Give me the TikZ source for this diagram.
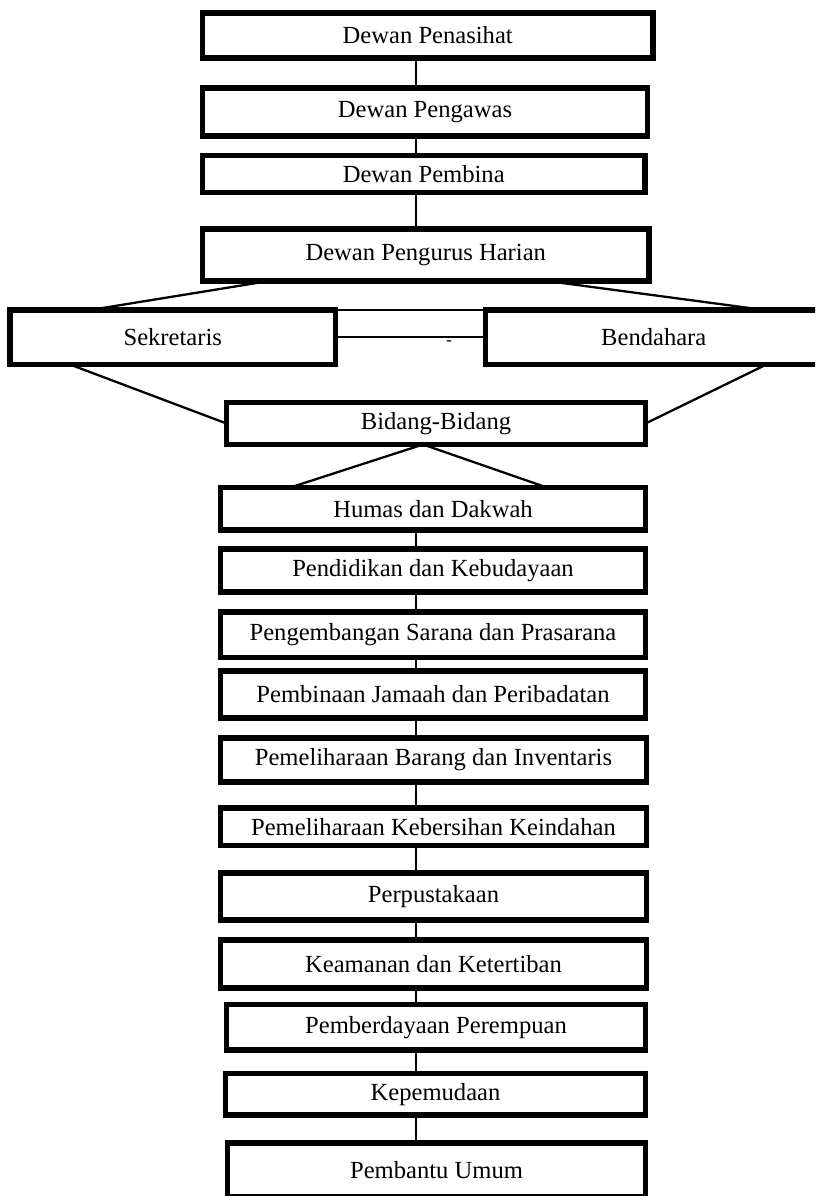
\documentclass[tikz,border=0pt]{standalone}
\usepackage{fontspec}
\setmainfont{Liberation Serif}
\usetikzlibrary{calc}

\begin{document}
\begin{tikzpicture}[
    x=0.02cm, y=-0.02cm,
    box/.style={draw, line width=3pt, inner sep=0pt, outer sep=0pt, align=center,
        font=\fontsize{14}{16}\selectfont},
    link/.style={line width=1.3pt}
]
    \useasboundingbox (0,0) rectangle (815,1196);
    \clip (0,0) rectangle (815,1196);

    % Dewan
    \node[box, minimum width=9.01cm, minimum height=0.9cm]  (penasihat) at (427.75,35.5) {Dewan Penasihat};
    \node[box, minimum width=8.9cm,  minimum height=0.96cm] (pengawas)  at (425,112)    {Dewan Pengawas};
    \node[box, minimum width=8.85cm, minimum height=0.74cm] (pembina)   at (423.75,174) {Dewan Pembina};
    \node[box, minimum width=8.93cm, minimum height=1.04cm] (pengurus)  at (425.75,255) {Dewan Pengurus Harian};

    \node[box, minimum width=6.51cm, minimum height=1.09cm] (sekretaris) at (172.75,337.25) {Sekretaris};
    \node[box, minimum width=6.73cm, minimum height=1.09cm] (bendahara)  at (653.75,337.25) {Bendahara};
    \node[inner sep=0pt, font=\fontsize{10}{12}\selectfont] (dash) at (449,343) {-};

    \node[box, minimum width=8.38cm, minimum height=0.84cm] (bidang) at (436,423.5) {Bidang-Bidang};

    % Bidang
    \node[box, minimum width=8.5cm,  minimum height=0.85cm] (humas)      at (433,508.75) {Humas dan Dakwah};
    \node[box, minimum width=8.5cm,  minimum height=0.86cm] (pendidikan) at (433,570.5)  {Pendidikan dan Kebudayaan};
    \node[box, minimum width=8.5cm,  minimum height=0.91cm] (sarana)     at (433,634.75) {Pengembangan Sarana dan Prasarana};
    \node[box, minimum width=8.5cm,  minimum height=0.94cm] (jamaah)     at (433,694.5)  {Pembinaan Jamaah dan Peribadatan};
    \node[box, minimum width=8.52cm, minimum height=0.88cm] (barang)     at (433.5,760)  {Pemeliharaan Barang dan Inventaris};
    \node[box, minimum width=8.52cm, minimum height=0.75cm] (kebersihan) at (433.5,826.75) {Pemeliharaan Kebersihan Keindahan};
    \node[box, minimum width=8.52cm, minimum height=0.94cm] (pustaka)    at (433.5,896.5) {Perpustakaan};
    \node[box, minimum width=8.52cm, minimum height=0.96cm] (keamanan)   at (433.5,964)  {Keamanan dan Ketertiban};
    \node[box, minimum width=8.38cm, minimum height=0.91cm] (perempuan)  at (436,1027.25) {Pemberdayaan Perempuan};
    \node[box, minimum width=8.4cm,  minimum height=0.83cm] (pemuda)     at (435.5,1094.25) {Kepemudaan};
    \node[box, minimum width=8.36cm, minimum height=1.08cm] (pembantu)   at (436.5,1170) {Pembantu Umum};

    \coordinate (spine) at (416,0);

    % garis tegak
    \foreach \a/\b in {penasihat/pengawas, pengawas/pembina, pembina/pengurus,
        humas/pendidikan, pendidikan/sarana, sarana/jamaah, jamaah/barang,
        barang/kebersihan, kebersihan/pustaka, pustaka/keamanan,
        keamanan/perempuan, perempuan/pemuda, pemuda/pembantu}
        \draw[link] (\a.south -| spine) -- (\b.north -| spine);

    % garis miring
    \draw[link] ($(pengurus.south west)!0.149!(pengurus.south east)$) -- ($(sekretaris.north west)!0.246!(sekretaris.north east)$);
    \draw[link] ($(pengurus.south west)!0.772!(pengurus.south east)$) -- ($(bendahara.north west)!0.829!(bendahara.north east)$);

    \draw[link] (sekretaris.north east) -- (bendahara.north west);
    \draw[link] (sekretaris.east) -- (bendahara.west);

    \draw[link] ($(sekretaris.south west)!0.184!(sekretaris.south east)$) -- (bidang.west);
    \draw[link] ($(bendahara.south west)!0.835!(bendahara.south east)$) -- (bidang.east);

    \draw[link] ($(humas.north west)!0.164!(humas.north east)$) -- ($(bidang.south west)!0.469!(bidang.south east)$)
        -- ($(humas.north west)!0.768!(humas.north east)$);

\end{tikzpicture}
\end{document}
